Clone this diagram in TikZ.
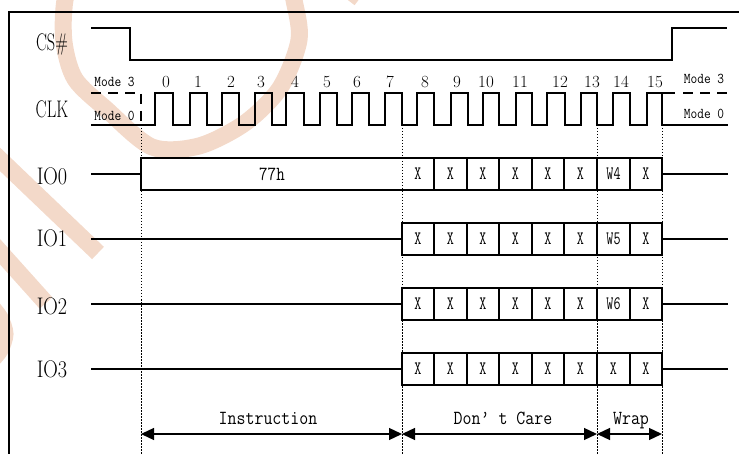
\documentclass[tikz,border=0pt]{standalone}
\usetikzlibrary{arrows.meta}
\definecolor{wm}{RGB}{243,217,201}
\begin{document}
\begin{tikzpicture}[x=1pt,y=-1pt,
  sig/.style={line width=1.4pt},
  frame/.style={line width=1.5pt},
  guide/.style={line width=1pt,dash pattern=on 1.5pt off 1.5pt},
  modedash/.style={line width=1.4pt,dash pattern=on 10pt off 7pt},
  wmark/.style={wm,line width=17pt},
  biglab/.style={font=\fontsize{24}{24}\selectfont,inner sep=0pt,anchor=base},
  numlab/.style={font=\fontsize{17}{17}\selectfont,inner sep=0pt,anchor=base},
  modelab/.style={font=\ttfamily\fontsize{15}{15}\selectfont,inner sep=0pt,anchor=base},
  celltxt/.style={font=\ttfamily\fontsize{19}{19}\selectfont,inner sep=0pt},
  spanlab/.style={font=\ttfamily\fontsize{20}{20}\selectfont,inner sep=0pt,anchor=base},
  dimarrow/.style={line width=1.3pt,{Triangle[length=13pt,width=12pt]}-{Triangle[length=13pt,width=12pt]}}]
\useasboundingbox (0,0) rectangle (739,454);

% watermark
\begin{scope}
\clip (0,0) rectangle (739,454);
\draw[wmark] plot[smooth] coordinates {(78,-40) (65,0) (64,42) (75,79) (106,109) (152,147) (199,146) (245,123) (280,88) (299,40) (294,0) (284,-40)};
\draw[wmark] (-15,145) -- (98,253);
\draw[wmark] (-15,235) -- (46,303);
\draw[wmark] plot[smooth] coordinates {(-10,305) (0,318) (5,334) (0,350) (-10,362)};
\draw[wm,line width=8pt] (344,-8) -- (357,2);
\end{scope}

% frame
\draw[frame] (9,454) -- (9,12) -- (739,12);

% labels
\node[biglab] (lcs)  at (52,51)  {\scalebox{0.68}[1]{CS\#}};
\node[biglab] (lclk) at (52,118) {\scalebox{0.69}[1]{CLK}};
\node[biglab] (lio0) at (52,185) {\scalebox{0.84}[1]{IO0}};
\node[biglab] (lio1) at (52,247) {\scalebox{0.84}[1]{IO1}};
\node[biglab] (lio2) at (52,315) {\scalebox{0.84}[1]{IO2}};
\node[biglab] (lio3) at (52,377) {\scalebox{0.84}[1]{IO3}};

% CS#
\draw[sig] (91,28) -- (130,28) -- (130,60) -- (672,60) -- (672,28) -- (727,28);

% CLK
\draw[modedash] (91,93) -- (141,93) -- (141,125);
\draw[sig] (91,125) -- (155,125)
  foreach \r/\f in {155/173,190/207,222/239,255/272,286/304,320/337,352/369,385/402,417/434,451/468,483/499,516/532,547/565,581/597,613/630,647/662}
  { -- (\r,125) -- (\r,93) -- (\f,93) -- (\f,125) } -- (728,125);
\draw[sig] (662,93) -- (675,93);
\draw[modedash] (683,93) -- (728,93);

\node[modelab] (m3l) at (114.5,87)  {\scalebox{0.87}[1]{Mode 3}};
\node[modelab] (m0l) at (114.5,121) {\scalebox{0.87}[1]{Mode 0}};
\node[modelab] (m3r) at (704,84)  {\scalebox{0.87}[1]{Mode 3}};
\node[modelab] (m0r) at (704,119) {\scalebox{0.87}[1]{Mode 0}};

% clock numbers
\foreach \x/\t [count=\i] in {166/0,198/1,231/2,261/3,295/4,327/5,357/6,390/7,425/8,457/9,486/10,520/11,560/12,592/13,621/14,655/15}
  \node[numlab] (n\i) at (\x,88) {\t};

% guide lines
\foreach \x in {141,402,597,662}
  \draw[guide] (\x,125) -- (\x,454);

% IO0
\draw[sig] (91,174) -- (141,174);
\draw[sig] (141,158) rectangle (662,190);
\draw[sig] (662,174) -- (728,174);
\node[spanlab,anchor=center] (h77) at (272,174) {\scalebox{0.83}[1]{77h}};
% IO1..IO3
\foreach \y in {239,304,369} {
  \draw[sig] (91,\y) -- (402,\y);
  \draw[sig] (402,\y-16) rectangle (662,\y+16);
  \draw[sig] (662,\y) -- (728,\y);
}
\foreach \y in {174,239,304,369}
  \foreach \x in {434,467,499,532,564,597,630}
    \draw[sig] (\x,\y-16) -- (\x,\y+16);

% cell texts
\foreach \y/\w [count=\j] in {174/W4,239/W5,304/W6,369/X} {
  \foreach \x [count=\i] in {418,450.5,483,515.5,548,580.5}
    \node[celltxt] (c\j x\i) at (\x,\y) {\scalebox{0.72}[1]{X}};
  \node[celltxt] (c\j w) at (613.5,\y) {\scalebox{0.72}[1]{\w}};
  \node[celltxt] (c\j z) at (646,\y) {\scalebox{0.72}[1]{X}};
}

% spans
\coordinate (a0) at (141,434);
\coordinate (a1) at (402,434);
\coordinate (a2) at (597,434);
\coordinate (a3) at (662,434);
\draw[dimarrow] (a0) -- (a1);
\draw[dimarrow] (a1) -- (a2);
\draw[dimarrow] (a2) -- (a3);
\node[spanlab] (sins) at (268,424) {\scalebox{0.87}[1]{Instruction}};
\node[spanlab] (sdc)  at (503,424) {\scalebox{0.87}[1]{Don’ t Care}};
\node[spanlab] (swr)  at (631,424) {\scalebox{0.87}[1]{Wrap}};
\end{tikzpicture}
\end{document}
